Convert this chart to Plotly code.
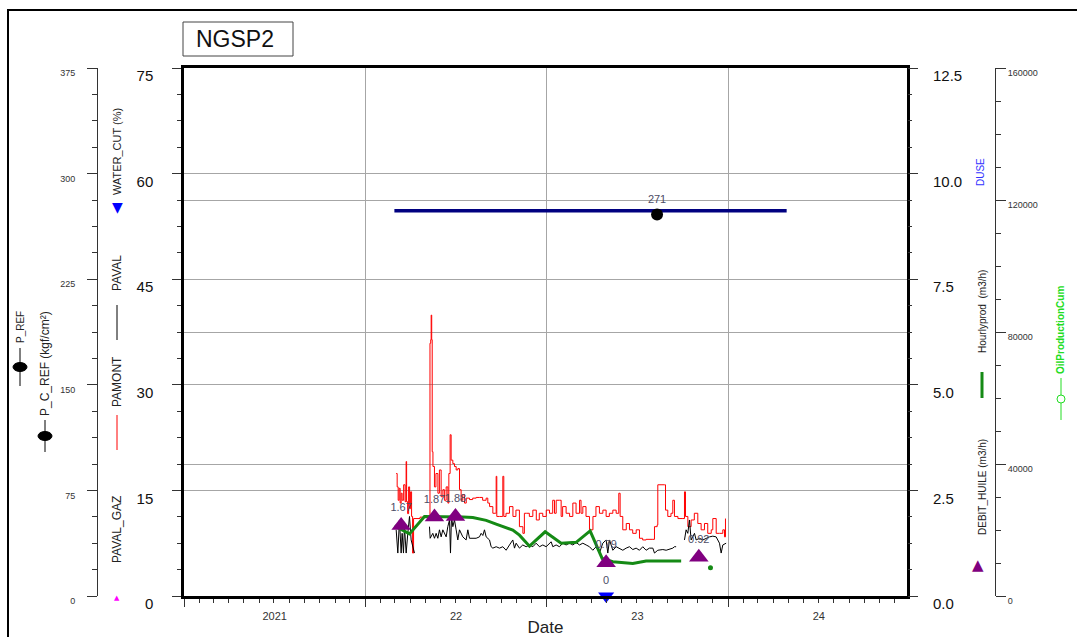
import pandas as pd
import plotly.graph_objects as go

W, H = 1077, 637
FONT = "Arial, 'Liberation Sans', sans-serif"
DAY0 = pd.Timestamp("2022-01-01")

# ---- well NGSP2 data (day offsets counted from 1 Jan 2022) ----
# PAMONT, kgf/cm2 (left 0-75 axis)
pamont_day = [62, 64, 66, 68, 70, 72, 74, 77, 80, 82,
              83, 85, 87, 89, 91, 93, 95, 97, 110, 129,
              130, 131.5, 132.4, 133.5, 134.5, 136, 139, 142, 146, 149,
              152.5, 156, 159, 162.6, 166, 168, 170.6, 172.6, 176, 179.3,
              182.7, 186, 189.4, 192.7, 196, 199.5, 203, 209.5, 216, 223,
              230, 236, 243, 246.4, 250, 256.5, 262, 263.2, 264.5, 270,
              275.2, 276.6, 278.6, 283, 290, 297, 303, 310, 317, 320,
              324, 330, 337, 344, 350, 357, 364, 370.5, 377, 380.6,
              384, 391, 394, 397, 404, 411, 417.5, 424, 431, 434,
              437.6, 444, 451, 458, 464, 471, 478, 484.5, 491, 498,
              504.7, 510, 512.7, 518, 525, 531.5, 538, 545, 551.6, 558,
              565, 578.5, 581.8, 587.2, 588.5, 595, 602, 604, 608.6, 615,
              618.7, 622, 629, 639, 642.2, 644.2, 649, 655.6, 662, 669,
              675.7, 682.4, 689, 696, 699.2, 706, 712.6, 719.3, 722.7, 724.7]
pamont_val = [17.4, 15.5, 13.6, 15.3, 13.2, 14.6, 13.6, 15.8, 13.4, 19.1,
              13.4, 11.7, 15.5, 12.4, 14.8, 11.3, 6.1, 11.0, 11.2, 11.2,
              35.9, 36.4, 39.9, 36.4, 20.5, 18.4, 15.5, 17.4, 14.6, 17.9,
              14.1, 15.1, 13.6, 15.5, 13.2, 17.4, 22.9, 19.3, 18.8, 18.4,
              17.9, 18.1, 15.1, 13.6, 14.4, 13.2, 13.9, 13.7, 13.9, 14.0,
              14.0, 13.6, 13.9, 13.2, 12.7, 11.75, 11.75, 17.0, 11.3, 11.3,
              11.3, 17.0, 11.3, 11.75, 12.7, 11.3, 12.2, 9.85, 8.9, 11.75,
              11.75, 11.3, 12.2, 10.8, 11.75, 11.3, 12.2, 11.75, 13.6, 11.75,
              13.6, 13.6, 11.3, 12.7, 11.75, 11.3, 13.2, 11.75, 13.6, 11.75,
              12.7, 11.3, 9.4, 11.3, 12.7, 11.75, 12.2, 11.3, 11.75, 12.2,
              11.75, 14.6, 11.3, 9.4, 10.3, 9.4, 8.9, 9.4, 8.2, 7.96,
              8.05, 8.05, 9.85, 10.1, 15.8, 15.8, 15.8, 12.2, 11.3, 11.75,
              13.6, 11.3, 11.0, 11.0, 14.8, 11.3, 9.85, 10.8, 11.75, 10.3,
              9.4, 10.3, 8.9, 9.4, 11.0, 8.9, 8.9, 9.4, 8.4, 11.0]

# PAVAL, kgf/cm2 (left 0-75 axis); None marks a gap in the record
paval_day = [62.0, 65.3, 68.6, 72.0, 74.0, 76.7, 78.7, 82.1, 85.4, 88.8, 92.1, 95.5, 98.8, None,
             129.0, 130.4, 135.7, 139.1, 142.4, 145.8, 149.1, 152.5, 155.9, 159.2,
             162.6, 165.9, 169.3, 171.3, 173.3, 176.0, 179.3, 182.7, 186.0, 189.4,
             196.1, 202.8, 206.2, 209.5, 216.2, 222.9, 229.6, 233.0, 236.4, 239.7,
             243.1, 249.8, 253.1, 256.5,
             263.2, 269.9, 276.6, 283.3, 290.0, 296.7, 300.1, 303.4, 310.1, 316.8,
             323.6, 330.3, 337.0, 343.7, 350.4, 357.1, 363.8, 370.5, 373.9, 377.2,
             383.9, 390.6, 397.3, 404.0, 410.8, 417.5, 424.2, 430.9, 437.6, 444.3,
             451.0, 457.7, 464.4, 471.1, 477.8, 484.5, 487.9, 491.3, 498.0, 504.7,
             511.4, 518.1, 524.8, 531.5, 538.2, 544.9, 551.6, 558.3, 565.0, 571.7,
             578.5, 581.8, 588.5, 598.6, 605.3, 612.0, 618.7, 622.0, 625.4, None,
             642.2, 645.5, 648.9, 652.2, 655.6, 659.0, 662.3, 665.7, 672.4, 679.1,
             685.8, 692.5, 699.2, 705.9, 712.6, 716.0, 719.3, 726.0]
paval_val = [9.4, 6.1, 10.8, 6.1, 8.9, 6.1, 9.85, 6.1, 8.9, 11.3, 7.96, 7.0, 6.1, None,
             9.85, 8.2, 8.9, 8.2, 8.9, 8.2, 9.4, 8.4, 9.4, 8.9,
             8.4, 9.85, 10.8, 6.1, 11.3, 9.85, 10.8, 9.4, 7.96, 9.4,
             8.4, 7.96, 9.4, 8.2, 8.2, 8.2, 8.4, 8.9, 8.6, 9.4,
             8.4, 7.96, 7.0, 6.8,
             7.0, 6.8, 7.0, 6.5, 7.25, 7.96, 6.8, 7.5, 6.8, 7.25,
             7.0, 7.25, 7.0, 7.5, 7.0, 7.25, 7.0, 7.5, 7.7, 7.0,
             7.25, 7.0, 7.5, 7.25, 7.5, 7.25, 7.6, 7.25, 7.5, 7.25,
             7.0, 6.5, 7.0, 6.1, 7.5, 7.96, 6.1, 7.96, 6.5, 7.0,
             6.8, 6.5, 6.8, 7.0, 6.6, 6.8, 6.5, 7.0, 6.5, 6.8,
             6.8, 6.1, 6.5, 6.6, 6.5, 6.6, 6.8, 7.0, 7.0, None,
             7.96, 9.4, 8.9, 10.8, 7.96, 8.4, 8.9, 7.96, 8.2, 7.96,
             8.2, 8.4, 8.5, 8.4, 7.5, 6.1, 7.25, 7.5]

# Hourlyprod, m3/h (right 0-12.5 axis)
hourly_day = [58.6, 88.8, 119.0, 162.6, 196.1, 216.2, 243.1, 263.2, 283.3, 296.7,
              310.1, 330.3, 361.8, 394.0, 424.2, 452.3, 476.5, 498.0, 538.2, 565.0, 635.5]
hourly_val = [1.66, 1.47, 1.88, 1.88, 1.87, 1.86, 1.79, 1.70, 1.62, 1.56,
              1.44, 1.18, 1.52, 1.25, 1.27, 1.54, 0.89, 0.81, 0.77, 0.83, 0.83]
hourly_last_day = [694.5]
hourly_last_val = [0.67]

# DEBIT_HUILE well tests, m3/h (right 0-12.5 axis)
debit_day = [72.0, 139.1, 181.3, 484.5, 671.0]
debit_val = [1.67, 1.87, 1.88, 0.79, 0.92]

# DUSE (right 0-12.5 axis)
duse_day = [58.4, 847.8]
duse_val = [9.12, 9.12]

# WATER_CUT, % (left 0-75 axis)
wcut_day = [484.5]
wcut_val = [0]

# P_C_REF, kgf/cm2 (outer left 0-375 axis)
pcref_day = [587.0]
pcref_val = [271]

# OilProductionCum (outer right 0-160000 axis) - no samples in this window
cum_day = []
cum_val = []


def to_dates(days):
    return [None if d is None else DAY0 + pd.Timedelta(days=d) for d in days]


fig = go.Figure()
fig.add_trace(go.Scatter(x=to_dates(cum_day), y=cum_val, yaxis="y4", mode="lines",
                         line=dict(color="#22dd22"), name="OilProductionCum"))
fig.add_trace(go.Scatter(x=to_dates(duse_day), y=duse_val, yaxis="y2", mode="lines",
                         line=dict(color="#000080", width=3.5), name="DUSE"))
fig.add_trace(go.Scatter(x=to_dates(pamont_day), y=pamont_val, mode="lines",
                         line=dict(color="#ff0000", width=1, shape="hv"), name="PAMONT"))
fig.add_trace(go.Scatter(x=to_dates(paval_day), y=paval_val, mode="lines",
                         line=dict(color="#000000", width=1), name="PAVAL"))
fig.add_trace(go.Scatter(x=to_dates(hourly_day), y=hourly_val, yaxis="y2", mode="lines",
                         line=dict(color="#158a15", width=3), name="Hourlyprod"))
fig.add_trace(go.Scatter(x=to_dates(hourly_last_day), y=hourly_last_val, yaxis="y2",
                         mode="markers", marker=dict(color="#158a15", size=5),
                         name="Hourlyprod"))
fig.add_trace(go.Scatter(x=to_dates(debit_day), y=debit_val, yaxis="y2",
                         mode="markers+text",
                         marker=dict(symbol="triangle-up", size=17, color="#800080"),
                         text=[f"{v:.2f}" for v in debit_val], textposition="top center",
                         textfont=dict(size=11, color="#4d4d66", family=FONT),
                         name="DEBIT_HUILE"))
fig.add_trace(go.Scatter(x=to_dates(wcut_day), y=wcut_val, mode="markers+text",
                         marker=dict(symbol="triangle-down", size=14, color="#0000ff"),
                         text=[f"{v:g}" for v in wcut_val], textposition="top center",
                         textfont=dict(size=11, color="#4d4d66", family=FONT),
                         cliponaxis=False, name="WATER_CUT"))
fig.add_trace(go.Scatter(x=to_dates(pcref_day), y=pcref_val, yaxis="y3",
                         mode="markers+text",
                         marker=dict(symbol="circle", size=12, color="#000000"),
                         text=[str(v) for v in pcref_val], textposition="top center",
                         textfont=dict(size=11, color="#4d4d66", family=FONT),
                         name="P_C_REF"))

xdom = [184 / W, 907 / W]
ydom = [1 - 596 / H, 1 - 68 / H]
GRID = "#a6a6a6"
TICK = "#333333"

common_y = dict(zeroline=False, ticks="outside", tickcolor=TICK, fixedrange=True)

fig.update_layout(
    width=W, height=H,
    margin=dict(l=0, r=0, t=0, b=0, autoexpand=False),
    paper_bgcolor="white", plot_bgcolor="white",
    showlegend=False,
    font=dict(family=FONT, color="#222222"),
    xaxis=dict(
        domain=xdom, type="date", range=["2021-01-01", "2024-12-26"],
        dtick="M12", tick0="2021-01-01", ticklabelmode="period", tickformat="%Y",
        labelalias={"2022": "22", "2023": "23", "2024": "24"},
        ticks="outside", ticklen=8, tickcolor=TICK,
        minor=dict(dtick="M1", ticks="outside", ticklen=4, tickcolor=TICK, showgrid=False),
        showgrid=True, gridcolor=GRID, gridwidth=1,
        showline=True, linecolor="#000000", linewidth=2.5, mirror=True,
        tickfont=dict(size=11, color="#333333"),
        title=dict(text="Date", font=dict(size=17, color="#222222"), standoff=2),
        zeroline=False,
    ),
    yaxis=dict(
        domain=ydom, range=[0, 75], dtick=15, tick0=0,
        showline=True, linecolor="#000000", linewidth=2.5, mirror=True,
        ticklen=9, minor=dict(dtick=3.75, ticks="outside", ticklen=4, tickcolor=TICK),
        showgrid=True, gridcolor=GRID, gridwidth=1,
        tickfont=dict(size=15, color="#111111"),
        ticklabelstandoff=16, ticklabelshift=8,
        **common_y,
    ),
    yaxis2=dict(
        overlaying="y", side="right", anchor="x", range=[0, 12.5], dtick=2.5, tick0=0,
        tickformat=".1f", ticklen=10,
        minor=dict(dtick=0.625, ticks="outside", ticklen=4, tickcolor=TICK),
        showgrid=False, showline=False,
        tickfont=dict(size=15, color="#111111"),
        ticklabelstandoff=12, ticklabelshift=8,
        **common_y,
    ),
    yaxis3=dict(
        overlaying="y", side="left", anchor="free", position=97 / W,
        range=[0, 375], dtick=75, tick0=0, ticklen=10,
        minor=dict(dtick=18.75, ticks="outside", ticklen=5, tickcolor=TICK),
        showgrid=False, showline=True, linecolor="#333333", linewidth=1,
        tickfont=dict(size=9, color="#333333"),
        ticklabelstandoff=10, ticklabelshift=5,
        **common_y,
    ),
    yaxis4=dict(
        overlaying="y", side="right", anchor="free", position=995 / W,
        range=[0, 160000], dtick=40000, tick0=0, tickformat="d", ticklen=10,
        minor=dict(dtick=10000, ticks="outside", ticklen=5, tickcolor=TICK),
        showgrid=True, gridcolor=GRID, gridwidth=1,
        showline=True, linecolor="#333333", linewidth=1,
        tickfont=dict(size=9, color="#333333"),
        ticklabelstandoff=0, ticklabelshift=5,
        **common_y,
    ),
)


def px(x):
    return x / W


def py(y):
    return 1 - y / H


def vlabel(x, y, text, size, color="#222222"):
    return dict(x=px(x), y=py(y), xref="paper", yref="paper", text=text,
                textangle=-90, showarrow=False, xanchor="center", yanchor="middle",
                font=dict(size=size, color=color, family=FONT))


def glyph(x, y, text, size, color):
    return dict(x=px(x), y=py(y), xref="paper", yref="paper", text=text,
                showarrow=False, xanchor="center", yanchor="middle",
                font=dict(size=size, color=color, family="DejaVu Sans"))


annotations = [
    # chart title
    dict(x=px(235), y=py(39), xref="paper", yref="paper", text="NGSP2",
         showarrow=False, xanchor="center", yanchor="middle",
         font=dict(size=23, color="#111111", family=FONT)),
    # left-hand series captions
    vlabel(20, 327, "P_REF", 10),
    vlabel(45, 364, "P_C_REF (kgf/cm²)", 12),
    vlabel(117, 152, "WATER_CUT (%)", 11),
    glyph(117, 207, "▼", 14, "#0000ff"),
    vlabel(117, 273, "PAVAL", 12),
    vlabel(117, 382, "PAMONT", 12),
    vlabel(117, 530, "PAVAL_GAZ", 12),
    glyph(117, 598, "▲", 7, "#ff00ff"),
    # right-hand series captions
    vlabel(980, 172, "DUSE", 10, "#3333ff"),
    vlabel(982, 312, "Hourlyprod  (m3/h)", 10),
    vlabel(982, 487, "DEBIT_HUILE (m3/h)", 10),
    glyph(978, 565, "▲", 15, "#800080"),
    vlabel(1061, 330, "<b>OilProductionCum</b>", 10, "#22dd22"),
]

shapes = [
    # outer frame
    dict(type="line", xref="paper", yref="paper", x0=px(8), x1=px(8), y0=py(9), y1=0,
         line=dict(color="#000000", width=2)),
    dict(type="line", xref="paper", yref="paper", x0=px(8), x1=1, y0=py(10), y1=py(10),
         line=dict(color="#000000", width=2)),
    # title box
    dict(type="rect", xref="paper", yref="paper", x0=px(183), x1=px(293),
         y0=py(56), y1=py(22), line=dict(color="#444444", width=1)),
    # legend keys
    dict(type="line", xref="paper", yref="paper", x0=px(20), x1=px(20),
         y0=py(386), y1=py(348), line=dict(color="#000000", width=1)),
    dict(type="circle", xref="paper", yref="paper", x0=px(13), x1=px(27),
         y0=py(371.5), y1=py(362.5), fillcolor="#000000", line=dict(color="#000000", width=1)),
    dict(type="line", xref="paper", yref="paper", x0=px(45), x1=px(45),
         y0=py(452), y1=py(420), line=dict(color="#000000", width=1)),
    dict(type="circle", xref="paper", yref="paper", x0=px(38), x1=px(52),
         y0=py(440.5), y1=py(431.5), fillcolor="#000000", line=dict(color="#000000", width=1)),
    dict(type="line", xref="paper", yref="paper", x0=px(117), x1=px(117),
         y0=py(340), y1=py(305), line=dict(color="#000000", width=1)),
    dict(type="line", xref="paper", yref="paper", x0=px(117), x1=px(117),
         y0=py(450), y1=py(415), line=dict(color="#ff0000", width=1)),
    dict(type="line", xref="paper", yref="paper", x0=px(982), x1=px(982),
         y0=py(398), y1=py(372), line=dict(color="#158a15", width=3)),
    dict(type="line", xref="paper", yref="paper", x0=px(1061), x1=px(1061),
         y0=py(420), y1=py(378), line=dict(color="#22dd22", width=1)),
    dict(type="circle", xref="paper", yref="paper", x0=px(1057), x1=px(1065),
         y0=py(403), y1=py(395), fillcolor="white", line=dict(color="#22dd22", width=1)),
]

fig.update_layout(annotations=annotations, shapes=shapes)
fig.write_html("out.html")
